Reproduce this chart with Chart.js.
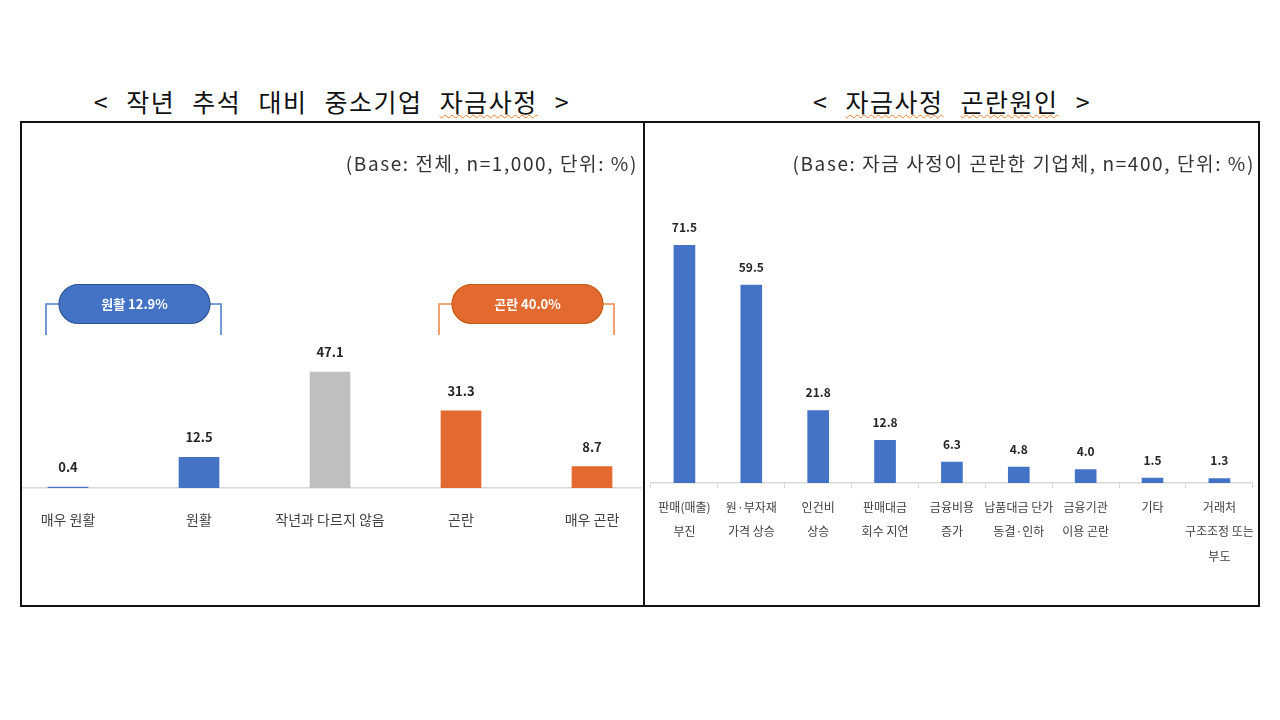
<!DOCTYPE html>
<html><head><meta charset="utf-8">
<script src="https://cdn.jsdelivr.net/npm/chart.js@4"></script>
<style>
html,body{margin:0;padding:0;background:#fff;width:1280px;height:720px;overflow:hidden;font-family:'Noto Sans CJK KR','Noto Sans',sans-serif;}
.abs{position:absolute;}
.title{font-size:25px;font-weight:400;letter-spacing:1.5px;word-spacing:10px;color:#111;text-align:center;line-height:30px;white-space:pre;}
.sq{text-decoration:underline wavy #EE8030;text-decoration-thickness:1px;text-underline-offset:2px;}
.sub{font-size:19px;letter-spacing:1.6px;color:#333;text-align:right;line-height:24px;white-space:pre;}
.box{border:2px solid #111;box-sizing:border-box;}
.clip{overflow:hidden;}
</style></head>
<body>
<div class="abs title" style="left:12px;top:86px;width:640px;">&lt; 작년 추석 대비 중소기업 <span class="sq">자금사정</span> &gt;</div>
<div class="abs title" style="left:632px;top:86px;width:640px;">&lt; <span class="sq">자금사정</span> <span class="sq">곤란원인</span> &gt;</div>

<div class="abs clip" style="left:21px;top:122px;width:621px;height:483px;">
  <canvas id="c1" class="abs" style="left:-21px;top:0;width:660px;height:483px;" width="660" height="483"></canvas>
</div>
<div class="abs clip" style="left:645px;top:122px;width:612px;height:483px;">
  <canvas id="c2" class="abs" style="left:0;top:0;width:616px;height:483px;" width="616" height="483"></canvas>
</div>
<div class="abs box" style="left:20px;top:121px;width:625px;height:486px;"></div>
<div class="abs box" style="left:643px;top:121px;width:617px;height:486px;"></div>

<div class="abs sub" style="left:200px;top:151px;width:438px;">(Base: 전체, n=1,000, 단위: %)</div>
<div class="abs sub" style="left:680px;top:151px;width:575px;">(Base: 자금 사정이 곤란한 기업체, n=400, 단위: %)</div>

<script>
// ---------- data ----------
const leftCategories = ['매우 원활', '원활', '작년과 다르지 않음', '곤란', '매우 곤란'];
const leftValues = [0.4, 12.5, 47.1, 31.3, 8.7];
const leftColors = ['#4472C4', '#4472C4', '#BFBFBF', '#E2692F', '#E2692F'];
const groupLabels = ['원활 12.9%', '곤란 40.0%'];
const groupRanges = [[0, 1], [3, 4]];
const groupColors = ['#4472C4', '#E2692F'];
const groupLineColors = ['#4F7FCB', '#EE8A4F'];

const rightCategories = [
  ['판매(매출)', '부진'],
  ['원·부자재', '가격 상승'],
  ['인건비', '상승'],
  ['판매대금', '회수 지연'],
  ['금융비용', '증가'],
  ['납품대금 단가', '동결·인하'],
  ['금융기관', '이용 곤란'],
  ['기타'],
  ['거래처', '구조조정 또는', '부도']
];
const rightValues = [71.5, 59.5, 21.8, 12.8, 6.3, 4.8, 4.0, 1.5, 1.3];

const FONT = "'Noto Sans CJK KR','Noto Sans',sans-serif";
Chart.defaults.font.family = FONT;

function valueLabels(offset, size) {
  return {
    id: 'vlabels',
    afterDatasetsDraw(chart) {
      const ctx = chart.ctx;
      const meta = chart.getDatasetMeta(0);
      const data = chart.data.datasets[0].data;
      ctx.save();
      ctx.fillStyle = '#262626';
      ctx.font = 'bold ' + size + 'px ' + FONT;
      ctx.textAlign = 'center';
      ctx.textBaseline = 'middle';
      meta.data.forEach((bar, i) => {
        ctx.fillText(data[i].toFixed(1), bar.x, bar.y - offset);
      });
      ctx.restore();
    }
  };
}

const brackets = {
  id: 'brackets',
  afterDatasetsDraw(chart) {
    const ctx = chart.ctx;
    const xs = chart.scales.x;
    const yLine = 182, yDrop = 213, pillH = 39, pillW = 151;
    groupRanges.forEach((r, g) => {
      const x0 = xs.getPixelForValue(r[0]) - 22;
      const x1 = xs.getPixelForValue(r[1]) + 22;
      ctx.save();
      ctx.strokeStyle = groupLineColors[g];
      ctx.lineWidth = 1.6;
      ctx.beginPath();
      ctx.moveTo(x0, yDrop); ctx.lineTo(x0, yLine); ctx.lineTo(x1, yLine); ctx.lineTo(x1, yDrop);
      ctx.stroke();
      const cx = (x0 + x1) / 2 + 1;
      const px = cx - pillW / 2, py = yLine - pillH / 2, rad = pillH / 2;
      ctx.beginPath();
      ctx.moveTo(px + rad, py);
      ctx.lineTo(px + pillW - rad, py);
      ctx.arc(px + pillW - rad, py + rad, rad, -Math.PI / 2, Math.PI / 2);
      ctx.lineTo(px + rad, py + pillH);
      ctx.arc(px + rad, py + rad, rad, Math.PI / 2, Math.PI * 1.5);
      ctx.closePath();
      ctx.fillStyle = groupColors[g];
      ctx.fill();
      ctx.strokeStyle = g === 0 ? '#2F5597' : '#C55A11';
      ctx.lineWidth = 1.2;
      ctx.stroke();
      ctx.fillStyle = '#fff';
      ctx.font = 'bold 13px ' + FONT;
      ctx.textAlign = 'center';
      ctx.textBaseline = 'middle';
      ctx.fillText(groupLabels[g], cx, yLine);
      ctx.restore();
    });
  }
};

new Chart(document.getElementById('c1'), {
  type: 'bar',
  data: { labels: leftCategories, datasets: [{ data: leftValues, backgroundColor: leftColors, barThickness: 40 }] },
  options: {
    responsive: false, animation: false,
    layout: { padding: { left: 2.5, right: 2.5, top: 169, bottom: 0 } },
    plugins: { legend: { display: false }, tooltip: { enabled: false } },
    scales: {
      y: { display: false, min: 0, max: 80 },
      x: {
        grid: { display: false, drawTicks: false },
        border: { display: true, color: '#D9D9D9', width: 1.5 },
        ticks: { color: '#404040', font: { size: 14 }, padding: 23, maxRotation: 0, autoSkip: false },
        afterFit(s) { s.height = 117; }
      }
    }
  },
  plugins: [valueLabels(20, 13), brackets]
});

new Chart(document.getElementById('c2'), {
  type: 'bar',
  data: { labels: rightCategories, datasets: [{ data: rightValues, backgroundColor: '#4472C4', barThickness: 21 }] },
  options: {
    responsive: false, animation: false,
    layout: { padding: { left: 6, right: 2.5, top: 95, bottom: 0 } },
    plugins: { legend: { display: false }, tooltip: { enabled: false } },
    scales: {
      y: { display: false, min: 0, max: 80 },
      x: {
        grid: { display: true, drawOnChartArea: false, drawTicks: true, tickLength: 5, color: '#D9D9D9', offset: true },
        border: { display: true, color: '#D9D9D9', width: 1.5 },
        ticks: { color: '#404040', font: { size: 12, lineHeight: 2.05 }, padding: 7, maxRotation: 0, autoSkip: false },
        afterFit(s) { s.height = 122; }
      }
    }
  },
  plugins: [valueLabels(18, 12)]
});
</script>
</body></html>
